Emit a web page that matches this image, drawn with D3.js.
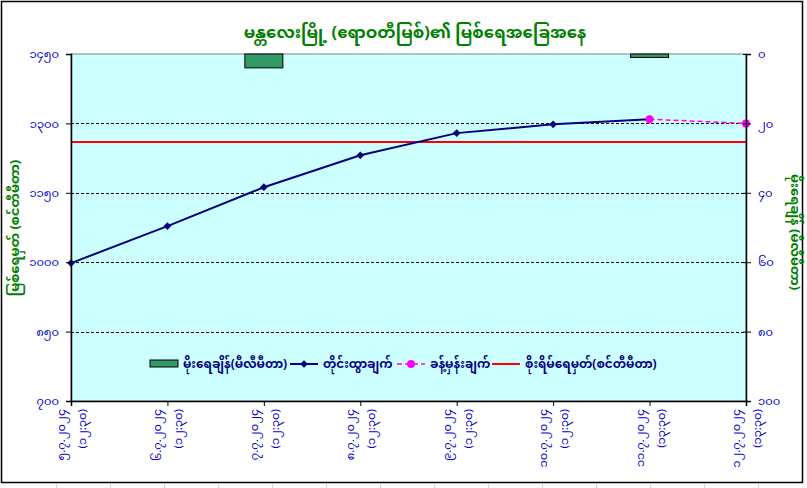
<!DOCTYPE html>
<html><head><meta charset="utf-8">
<script src="https://cdn.jsdelivr.net/npm/d3@7"></script>
<style>
body{margin:0;background:#fff;}
text{font-family:"Noto Sans Myanmar","Myanmar Text","Padauk","Noto Sans",sans-serif;}
</style></head>
<body>
<svg id="c" width="807" height="488"></svg>
<script>
const dates = ["၅.၇.၂၀၂၄","၆.၇.၂၀၂၄","၇.၇.၂၀၂၄","၈.၇.၂၀၂၄","၉.၇.၂၀၂၄","၁၀.၇.၂၀၂၄","၁၁.၇.၂၀၂၄","၁၂.၇.၂၀၂၄"];
const times = ["(၁၂:၃၀)","(၁၂:၃၀)","(၁၂:၃၀)","(၁၂:၃၀)","(၁၂:၃၀)","(၁၂:၃၀)","(၁၃:၃၀)","(၁၃:၃၀)"];
const rainfall = [null,null,4,null,null,null,1,null];
const observed = [998,1078,1162,1231,1279,1298,1309,null];
const forecast = [null,null,null,null,null,null,1309,1300];
const dangerLevel = [1260,1260,1260,1260,1260,1260,1260,1260];
const leftTicks = [700,850,1000,1150,1300,1450];
const rightTicks = [0,20,40,60,80,100];
const title = "မန္တလေးမြို့ (ဧရာဝတီမြစ်)၏ မြစ်ရေအခြေအနေ";
const leftTitle = "မြစ်ရေမှတ် (စင်တီမီတာ)";
const rightTitle = "မိုးရေချိန် (မီလီမီတာ)";
const legendLabels = ["မိုးရေချိန်(မီလီမီတာ)","တိုင်းထွာချက်","ခန့်မှန်းချက်","စိုးရိမ်ရေမှတ်(စင်တီမီတာ)"];

const mmDigits = "၀၁၂၃၄၅၆၇၈၉";
const toMM = v => String(v).replace(/[0-9]/g, d => mmDigits[+d]);

const svg = d3.select("#c");
const L = 71, R = 746, T = 54, B = 401;
const keys = dates.map((d,i)=>i);
const x = d3.scalePoint().domain(keys).range([L,R]);
const yL = d3.scaleLinear().domain([700,1450]).range([B,T]);
const yR = d3.scaleLinear().domain([0,100]).range([T,B]);

// spreadsheet faint cell lines outside chart
const g0 = svg.append("g").attr("stroke","#d4d4d4").attr("stroke-width",1);
d3.range(56,807,54).forEach(v=>g0.append("line").attr("x1",v+0.5).attr("x2",v+0.5).attr("y1",484).attr("y2",488));

// chart border
svg.append("rect").attr("x",1.5).attr("y",1.5).attr("width",801).attr("height",481)
  .attr("fill","#fff").attr("stroke","#000").attr("stroke-width",1.5);

// plot background
svg.append("rect").attr("x",L).attr("y",T).attr("width",R-L).attr("height",B-T)
  .attr("fill","#CCFFFF").attr("stroke","#808080").attr("stroke-width",1);

// gridlines
svg.append("g").selectAll("line").data(leftTicks.filter(t=>t>700 && t<1450)).join("line")
  .attr("x1",L).attr("x2",R).attr("y1",d=>Math.round(yL(d))+0.5).attr("y2",d=>Math.round(yL(d))+0.5)
  .attr("stroke","#000").attr("stroke-width",1).attr("stroke-dasharray","3,2");

// bars (rainfall, secondary inverted axis)
svg.append("g").selectAll("rect").data(rainfall.map((v,i)=>({v,i})).filter(d=>d.v!=null)).join("rect")
  .attr("x",d=>x(d.i)-19).attr("width",38)
  .attr("y",yR(0)).attr("height",d=>yR(d.v)-yR(0))
  .attr("fill","#339966").attr("stroke","#000").attr("stroke-width",1);

// danger level
const lineGen = arr => d3.line().defined(d=>d!=null).x((d,i)=>x(i)).y(d=>yL(d))(arr);
svg.append("path").attr("d",lineGen(dangerLevel)).attr("fill","none").attr("stroke","#FF0000").attr("stroke-width",2);

// observed
svg.append("path").attr("d",lineGen(observed)).attr("fill","none").attr("stroke","#000080").attr("stroke-width",2);
const diamond = d3.symbol().type(d3.symbolSquare).size(30);
svg.append("g").selectAll("path").data(observed.map((v,i)=>({v,i})).filter(d=>d.v!=null)).join("path")
  .attr("d",diamond).attr("transform",d=>`translate(${x(d.i)},${yL(d.v)}) rotate(45)`).attr("fill","#000080");

// forecast
svg.append("path").attr("d",lineGen(forecast)).attr("fill","none").attr("stroke","#FF00FF").attr("stroke-width",1.5).attr("stroke-dasharray","5,3");
svg.append("g").selectAll("circle").data(forecast.map((v,i)=>({v,i})).filter(d=>d.v!=null)).join("circle")
  .attr("cx",d=>x(d.i)).attr("cy",d=>yL(d.v)).attr("r",4).attr("fill","#FF00FF");

// axes
const axisColor = "#0000CC";
const gl = svg.append("g").attr("transform",`translate(${L},0)`)
  .call(d3.axisLeft(yL).tickValues(leftTicks).tickFormat(toMM).tickSize(5).tickPadding(7));
const gr = svg.append("g").attr("transform",`translate(${R},0)`)
  .call(d3.axisRight(yR).tickValues(rightTicks).tickFormat(toMM).tickSize(5).tickPadding(7));
const gb = svg.append("g").attr("transform",`translate(0,${B})`)
  .call(d3.axisBottom(x).tickFormat(()=>"" ).tickSize(5));
[gl,gr,gb].forEach(g=>{
  g.select(".domain").attr("stroke","#000").attr("stroke-width",1.5);
  g.selectAll(".tick line").attr("stroke","#000");
  g.selectAll("text").attr("fill",axisColor).style("font-size","11.5px").style("font-family",'"Noto Sans Myanmar","Myanmar Text","Padauk",sans-serif');
});
gr.selectAll(".tick line").attr("x1",-3);

// x labels rotated
const xl = svg.append("g");
keys.forEach(i=>{
  const t = xl.append("text").attr("transform",`translate(${x(i)},409) rotate(-90)`)
    .attr("text-anchor","end").attr("fill",axisColor).style("font-size","11.5px");
  t.append("tspan").attr("x",0).attr("y",-6).text(dates[i]);
  t.append("tspan").attr("x",0).attr("y",15).text(times[i]);
});

// titles
svg.append("text").attr("x",415).attr("y",38).attr("text-anchor","middle")
  .attr("fill","#008000").style("font-size","16.5px").style("font-weight","bold").text(title);
svg.append("text").attr("transform","translate(19,228) rotate(-90)").attr("text-anchor","middle")
  .attr("fill","#008000").style("font-size","13px").style("font-weight","bold").text(leftTitle);
svg.append("text").attr("transform","translate(791,232) rotate(90)").attr("text-anchor","middle")
  .attr("fill","#008000").style("font-size","13px").style("font-weight","bold").text(rightTitle);

// legend
const lg = svg.append("g").attr("transform","translate(0,364)");
const lx = [150,290,397,492];
lg.append("rect").attr("x",lx[0]).attr("y",-4).attr("width",28).attr("height",7).attr("fill","#339966").attr("stroke","#000");
lg.append("line").attr("x1",lx[1]).attr("x2",lx[1]+28).attr("y1",0).attr("y2",0).attr("stroke","#000080").attr("stroke-width",2);
lg.append("path").attr("d",diamond).attr("transform",`translate(${lx[1]+14},0) rotate(45)`).attr("fill","#000080");
lg.append("line").attr("x1",lx[2]).attr("x2",lx[2]+28).attr("y1",0).attr("y2",0).attr("stroke","#FF00FF").attr("stroke-width",1.5).attr("stroke-dasharray","5,3");
lg.append("circle").attr("cx",lx[2]+14).attr("cy",0).attr("r",4).attr("fill","#FF00FF");
lg.append("line").attr("x1",lx[3]).attr("x2",lx[3]+28).attr("y1",0).attr("y2",0).attr("stroke","#FF0000").attr("stroke-width",2);
legendLabels.forEach((s,i)=>{
  lg.append("text").attr("x",lx[i]+33).attr("y",4).attr("fill","#000080")
    .style("font-size","12px").style("font-weight","bold").text(s);
});
</script>
</body></html>
